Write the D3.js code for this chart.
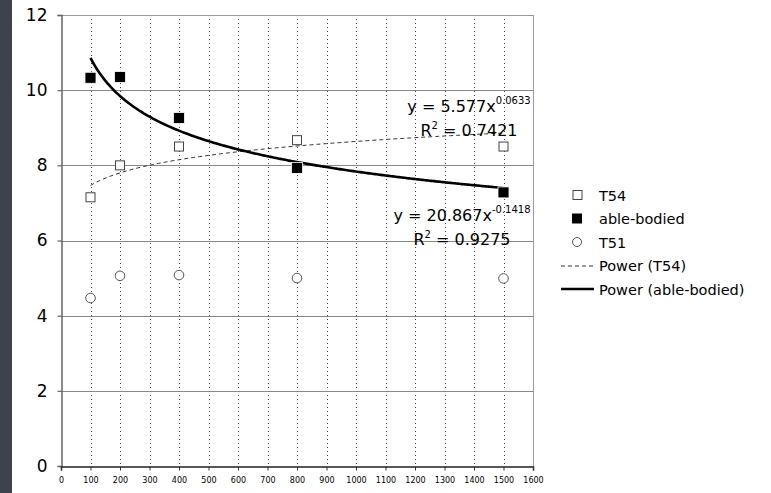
<!DOCTYPE html>
<html>
<head>
<meta charset="utf-8">
<script src="https://cdn.jsdelivr.net/npm/d3@7"></script>
<style>
body { margin: 0; background: #fff; }
svg { display: block; font-family: "DejaVu Sans", Verdana, sans-serif; }
</style>
</head>
<body>
<div id="chart"></div>
<script>
// data
var distances = [100, 200, 400, 800, 1500];
var t54 = [7.15, 8.0, 8.5, 8.67, 8.5];
var ableBodied = [10.33, 10.35, 9.26, 7.93, 7.28];
var t51 = [4.47, 5.06, 5.08, 5.0, 4.99];
var xTicks = d3.range(0, 1700, 100);
var yTicks = [0, 2, 4, 6, 8, 10, 12];

// power fits as printed on the chart: y = a * x^b
var fitT54 = {a: 5.577, b: 0.0633, r2: "0.7421"};
var fitAble = {a: 20.867, b: -0.1418, r2: "0.9275"};

var width = 771, height = 493;

var svg = d3.select("#chart").append("svg")
    .attr("width", width)
    .attr("height", height);

// dark strip on the left
svg.append("rect")
    .attr("x", 0).attr("y", 0)
    .attr("width", 12).attr("height", height)
    .attr("fill", "#3f414b");

var xScale = d3.scaleLinear().domain([0, 1600]).range([61, 533]);
var yScale = d3.scaleLinear().domain([0, 12]).range([466, 15]);

// vertical dotted grid
svg.append("g")
    .selectAll("line")
    .data(xTicks.filter(function(d){ return d > 0 && d < 1600; }))
    .enter().append("line")
    .attr("x1", function(d){ return Math.round(xScale(d)) + 0.5; })
    .attr("x2", function(d){ return Math.round(xScale(d)) + 0.5; })
    .attr("y1", yScale(12))
    .attr("y2", yScale(0))
    .attr("stroke", "#444")
    .attr("stroke-width", 1)
    .attr("stroke-dasharray", "1,3");

// horizontal grid
svg.append("g")
    .selectAll("line")
    .data(yTicks.filter(function(d){ return d > 0; }))
    .enter().append("line")
    .attr("x1", xScale(0))
    .attr("x2", xScale(1600))
    .attr("y1", function(d){ return Math.round(yScale(d)) + 0.5; })
    .attr("y2", function(d){ return Math.round(yScale(d)) + 0.5; })
    .attr("stroke", function(d){ return d === 12 ? "#999" : "#888"; })
    .attr("stroke-width", function(d){ return d === 12 ? 1 : 1.2; });

// right border
svg.append("line")
    .attr("x1", xScale(1600) + 0.5).attr("x2", xScale(1600) + 0.5)
    .attr("y1", yScale(12)).attr("y2", yScale(0))
    .attr("stroke", "#999");

// axes
var yAxis = d3.axisLeft(yScale).tickValues(yTicks).tickSize(4).tickPadding(10);
var gy = svg.append("g")
    .attr("transform", "translate(" + (xScale(0) + 0.5) + ",0)")
    .call(yAxis);
gy.select(".domain").attr("stroke", "#666").attr("stroke-width", 1.5);
gy.selectAll(".tick line").attr("stroke", "#666").attr("stroke-width", 1.2);
gy.selectAll(".tick text")
    .attr("font-size", 17)
    .attr("font-family", "DejaVu Sans, sans-serif")
    .attr("fill", "#000");

var xAxis = d3.axisBottom(xScale).tickValues(xTicks).tickSize(4).tickPadding(7)
    .tickFormat(d3.format("d"));
var gx = svg.append("g")
    .attr("transform", "translate(0," + (yScale(0) + 0.5) + ")")
    .call(xAxis);
gx.select(".domain").attr("stroke", "#222").attr("stroke-width", 1.5);
gx.selectAll(".tick line").attr("stroke", "#333");
gx.selectAll(".tick text")
    .attr("font-size", 8)
    .attr("font-family", "DejaVu Sans, sans-serif")
    .attr("fill", "#000");

// trend lines
function fitPoints(fit) {
    var pts = [];
    for (var x = distances[0]; x <= distances[distances.length - 1]; x += 10) {
        pts.push([x, fit.a * Math.pow(x, fit.b)]);
    }
    return pts;
}
var line = d3.line()
    .x(function(d){ return xScale(d[0]); })
    .y(function(d){ return yScale(d[1]); })
    .curve(d3.curveMonotoneX);

svg.append("path")
    .datum(fitPoints(fitT54))
    .attr("d", line)
    .attr("fill", "none")
    .attr("stroke", "#333")
    .attr("stroke-width", 1)
    .attr("stroke-dasharray", "4,3");

svg.append("path")
    .datum(fitPoints(fitAble))
    .attr("d", line)
    .attr("fill", "none")
    .attr("stroke", "#000")
    .attr("stroke-width", 2.6);

// markers
function pairs(vals) {
    return distances.map(function(d, i){ return [d, vals[i]]; });
}

svg.append("g").selectAll("rect")
    .data(pairs(t54)).enter().append("rect")
    .attr("x", function(d){ return xScale(d[0]) - 4.5; })
    .attr("y", function(d){ return yScale(d[1]) - 4.5; })
    .attr("width", 9).attr("height", 9)
    .attr("fill", "#fff")
    .attr("stroke", "#444")
    .attr("stroke-width", 1);

svg.append("g").selectAll("circle")
    .data(pairs(t51)).enter().append("circle")
    .attr("cx", function(d){ return xScale(d[0]); })
    .attr("cy", function(d){ return yScale(d[1]); })
    .attr("r", 4.8)
    .attr("fill", "#fff")
    .attr("stroke", "#555")
    .attr("stroke-width", 1);

svg.append("g").selectAll("rect")
    .data(pairs(ableBodied)).enter().append("rect")
    .attr("x", function(d){ return xScale(d[0]) - 5.5; })
    .attr("y", function(d){ return yScale(d[1]) - 5.5; })
    .attr("width", 11).attr("height", 11)
    .attr("fill", "#000")
    .attr("stroke", "#fff")
    .attr("stroke-width", 0.8);

// equation labels
function equation(fit, cx, y) {
    var t = svg.append("text")
        .attr("x", cx).attr("y", y)
        .attr("text-anchor", "middle")
        .attr("font-size", 16)
        .attr("fill", "#000");
    t.append("tspan").text("y = " + fit.a.toFixed(3) + "x");
    t.append("tspan").attr("dy", -8).attr("font-size", 10).text(String(fit.b));
    var r = svg.append("text")
        .attr("x", cx).attr("y", y + 24)
        .attr("text-anchor", "middle")
        .attr("font-size", 16)
        .attr("fill", "#000");
    r.append("tspan").text("R");
    r.append("tspan").attr("dy", -7).attr("font-size", 10).text("2");
    r.append("tspan").attr("dy", 7).text(" = " + fit.r2);
}
equation(fitT54, 469, 112);
equation(fitAble, 462, 221);

// legend
var legendItems = [
    {label: "T54", type: "openSquare"},
    {label: "able-bodied", type: "filledSquare"},
    {label: "T51", type: "circle"},
    {label: "Power (T54)", type: "dashed"},
    {label: "Power (able-bodied)", type: "solid"}
];
var legend = svg.append("g").attr("transform", "translate(0,195)");
legendItems.forEach(function(item, i) {
    var g = legend.append("g").attr("transform", "translate(0," + (i * 23.5) + ")");
    if (item.type === "openSquare") {
        g.append("rect").attr("x", 573).attr("y", -4.5).attr("width", 9).attr("height", 9)
            .attr("fill", "#fff").attr("stroke", "#444");
    } else if (item.type === "filledSquare") {
        g.append("rect").attr("x", 572).attr("y", -5).attr("width", 10).attr("height", 10)
            .attr("fill", "#000");
    } else if (item.type === "circle") {
        g.append("circle").attr("cx", 577).attr("cy", 0).attr("r", 4.5)
            .attr("fill", "#fff").attr("stroke", "#555");
    } else if (item.type === "dashed") {
        g.append("line").attr("x1", 561).attr("x2", 594).attr("y1", 0.5).attr("y2", 0.5)
            .attr("stroke", "#333").attr("stroke-dasharray", "4,3");
    } else {
        g.append("line").attr("x1", 561).attr("x2", 594).attr("y1", 0).attr("y2", 0)
            .attr("stroke", "#000").attr("stroke-width", 2.4);
    }
    g.append("text")
        .attr("x", 599).attr("y", 5.5)
        .attr("font-size", 14.5)
        .attr("fill", "#000")
        .text(item.label);
});
</script>
</body>
</html>
